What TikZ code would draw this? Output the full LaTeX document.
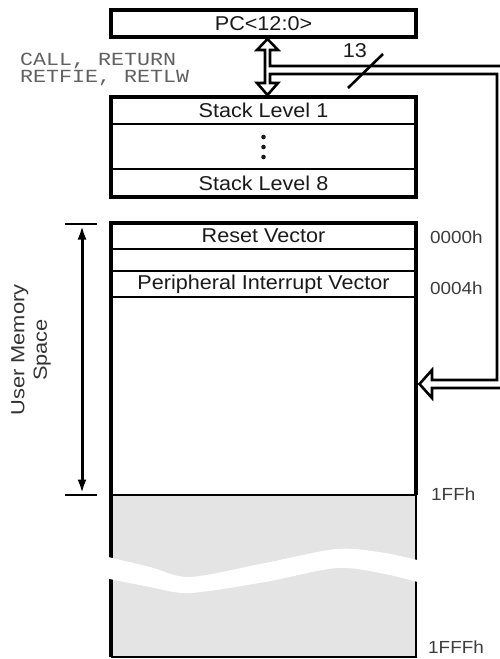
\documentclass[tikz,border=0pt]{standalone}
\usepackage{fontspec}
\setmainfont{Liberation Sans}[FakeStretch=1.08]
\newfontfamily\monof{Liberation Mono}[FakeStretch=1.17]
\newfontfamily\umsf{Liberation Sans}[FakeStretch=1.15]
\usetikzlibrary{arrows.meta}
\definecolor{memgray}{HTML}{E4E4E4}
\definecolor{inkc}{HTML}{1A1A1A}
\begin{document}
\begin{tikzpicture}[x=1pt,y=-1pt,
  thickln/.style={line width=3.3pt},
  midln/.style={line width=2.6pt},
  thinln/.style={line width=1.5pt},
  row/.style={minimum width=305pt, inner sep=0pt, outer sep=0pt, text=inkc,
              font=\fontsize{20}{22}\selectfont},
  hexlbl/.style={font=\fontsize{17.5}{20}\selectfont, text=inkc!85, anchor=west, inner sep=0pt},
  monolbl/.style={font=\monof\fontsize{18.5}{21}\selectfont, text=black!62, anchor=base west, inner sep=0pt},
]
\useasboundingbox (0,0) rectangle (500,659);
\clip (0,0) rectangle (500,659);

% ---------- PC ----------
\node[row, draw, thickln, minimum height=27pt] (pc) at (263.5,23.5) {PC<12:0>};

% ---------- Stack ----------
\node[row, minimum height=27pt] (sl1) at (263.5,110.5) {Stack Level 1};
\node[row, minimum height=45pt] (sdots) at (263.5,146.5) {};
\node[row, minimum height=28pt] (sl8) at (263.5,183) {Stack Level 8};
\draw[thickln] (sl1.north west) rectangle (sl8.south east);
\draw[midln] (sl1.south west) -- (sl1.south east);
\draw[thinln] (sl8.north west) -- (sl8.north east);
\foreach \yy in {137,147,157} \fill[inkc] (263.5,\yy) circle (2.3);

% ---------- call/return labels ----------
\node[monolbl] (call) at (20,65) {CALL, RETURN};
\node[monolbl] (retf) at (20,82) {RETFIE, RETLW};

% ---------- Program memory ----------
\node[row, minimum height=26pt] (rv) at (263.5,236) {Reset Vector};
\node[row, minimum height=22pt] (blank) at (263.5,260) {};
\node[row, minimum height=26pt] (piv) at (263.5,284) {Peripheral Interrupt Vector};
\node[row, minimum height=198pt] (user) at (263.5,396) {};
\node[row, minimum height=162pt, fill=memgray] (gray) at (263.5,576) {};

\draw[thickln] (user.south west) -- (rv.north west) -- (rv.north east) -- (user.south east);
\draw[midln] (rv.south west) -- (rv.south east);
\draw[thinln] (piv.north west) -- (piv.north east);
\draw[midln] (piv.south west) -- (piv.south east);
\draw[thinln] (user.south west) -- (user.south east);
\draw[thickln] (gray.north west) -- (gray.south west);
\draw[thinln] (gray.north east) -- (gray.south east) -- (gray.south west);

% wavy break
\fill[white] plot[smooth] coordinates {(100,555) (150,567) (190,577) (265,563) (337,549) (385,553) (425,562)}
  -- plot[smooth] coordinates {(425,584) (385,574) (337,568) (265,582) (190,593) (150,587) (100,577)} -- cycle;

% address labels
\node[hexlbl] (a0) at (430,237) {0000h};
\node[hexlbl] (a4) at (430,288) {0004h};
\node[hexlbl] (a1) at (431,494) {1FFh};
\node[hexlbl] (a2) at (428,647) {1FFFh};

% ---------- hollow bus arrows ----------
\draw[midln, line join=miter] (270,66) -- (270,50) -- (278,50) -- (267.5,39) -- (257,50) -- (265,50)
  -- (265,83) -- (257,83) -- (267.5,95) -- (278,83) -- (270,83) -- (270,74)
  -- (497,74) -- (497,380) -- (432,380) -- (432,370) -- (419.5,384) -- (432,398) -- (432,388)
  -- (505,388) -- (505,66) -- cycle;
\node[font=\fontsize{20}{22}\selectfont, text=inkc, inner sep=0pt] (w13) at (355,51) {13};
\draw[midln] (348,88) -- (383,54);

% ---------- user memory space dimension ----------
\coordinate (dt) at (82,224);
\coordinate (db) at (82,495);
\draw[midln] (65,224) -- (97,224);
\draw[midln] (65,495) -- (97,495);
\draw[line width=3pt, {Latex[length=14pt,width=9pt]}-{Latex[length=14pt,width=9pt]}] ([yshift=-1.5pt]dt) -- ([yshift=1.5pt]db);
\node[rotate=90, align=center, text=black!80, font=\umsf\fontsize{19}{22.5}\selectfont] (ums) at (31,350) {User Memory\\Space};
\end{tikzpicture}
\end{document}
